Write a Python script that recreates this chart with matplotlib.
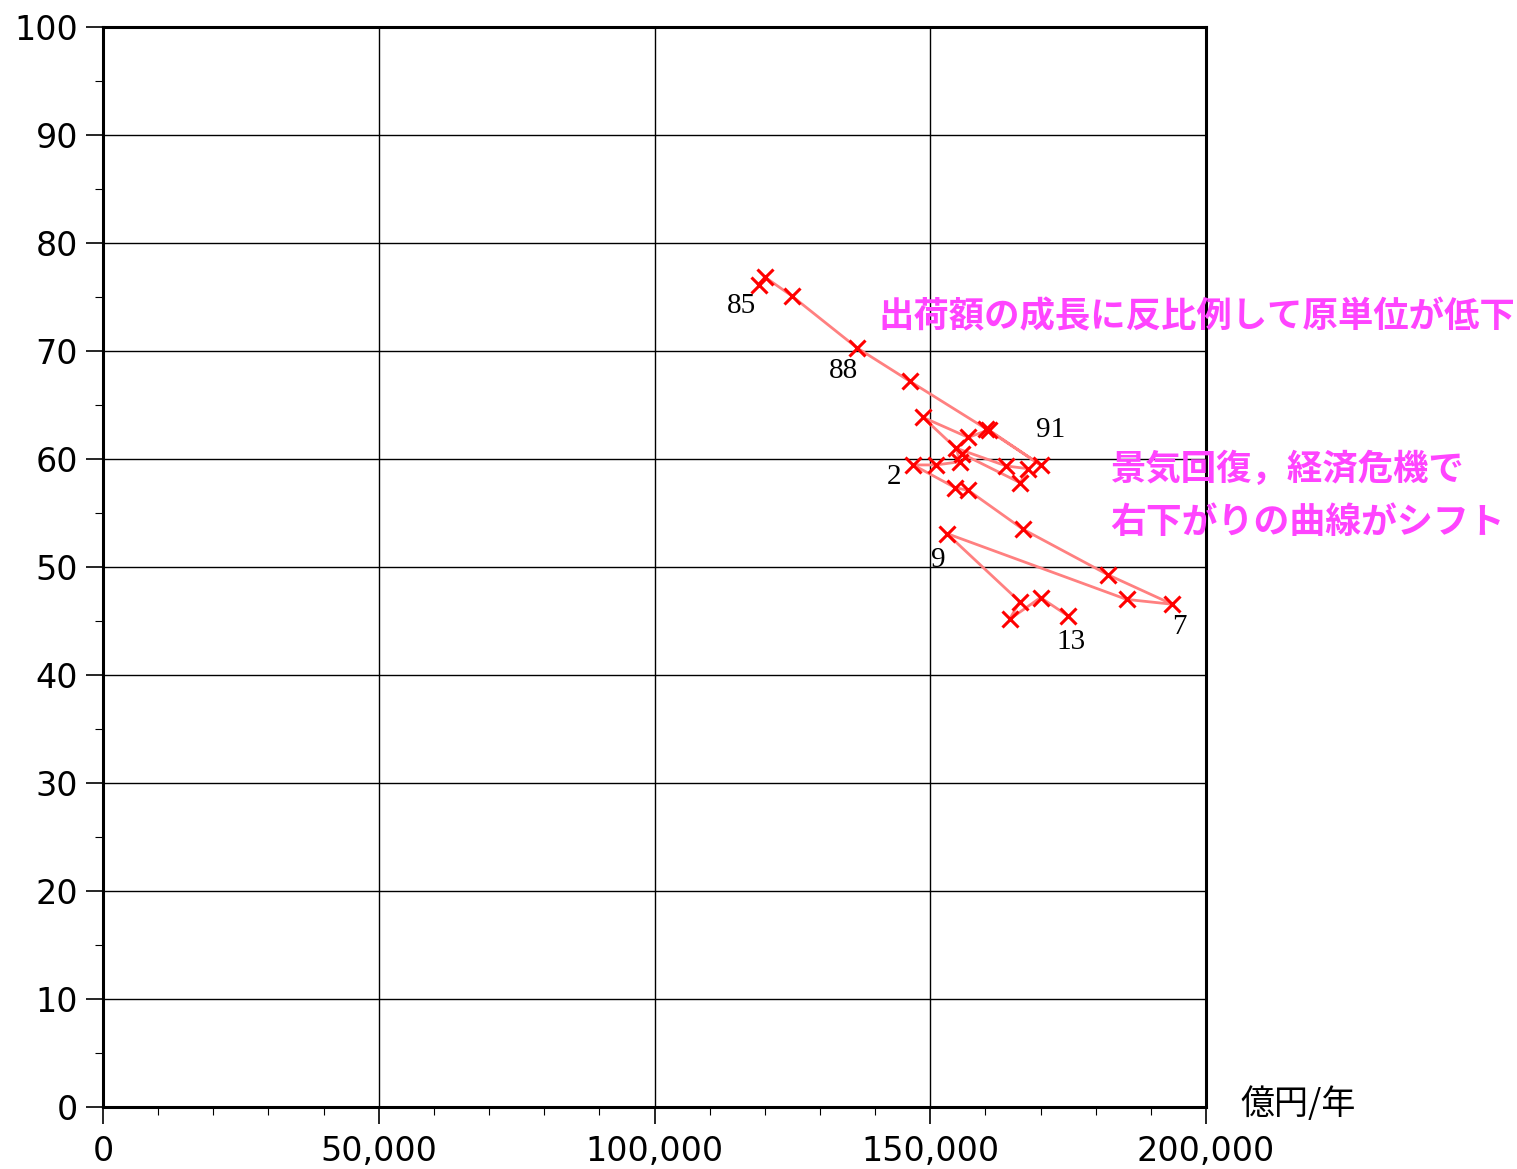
import matplotlib
matplotlib.use("Agg")
import matplotlib.pyplot as plt
from matplotlib.ticker import MultipleLocator, FuncFormatter

# Data: year, shipment value (億円/年), intensity
years = [1985, 1986, 1987, 1988, 1989, 1990, 1991, 1992, 1993, 1994,
         1995, 1996, 1997, 1998, 1999, 2000, 2001, 2002, 2003, 2004,
         2005, 2006, 2007, 2008, 2009, 2010, 2011, 2012, 2013]
shipment = [118900, 120000, 124900, 136700, 146300, 160100, 170000, 160600, 156900, 148700,
            155700, 166300, 167800, 163800, 154700, 155400, 151100, 146900, 154500, 156900,
            166800, 182300, 193900, 185600, 153000, 166200, 164400, 170000, 175000]
intensity = [76.1, 76.85, 75.1, 70.3, 67.2, 62.8, 59.45, 62.7, 62.0, 63.85,
             60.5, 57.8, 59.1, 59.35, 61.0, 59.75, 59.45, 59.45, 57.35, 57.1,
             53.5, 49.26, 46.55, 47.0, 53.1, 46.8, 45.16, 47.17, 45.47]

label_years = [1985, 1988, 1991, 2002, 2007, 2009, 2013]
label_texts = ["85", "88", "91", "2", "7", "9", "13"]
label_offsets = [(-17, -21), (-13, -23), (10, 35), (-19, -12), (7, -23), (-8, -26), (3, -26)]

annot1 = "出荷額の成長に反比例して原単位が低下"
annot2 = "景気回復，経済危機で\n右下がりの曲線がシフト"
unit_label = "億円/年"

x_ticks = [0, 50000, 100000, 150000, 200000]
y_ticks = list(range(0, 101, 10))

fig = plt.figure(figsize=(15.17, 11.69), dpi=100)
ax = fig.add_axes([103/1517, 1-1107/1169, (1206-103)/1517, (1107-27)/1169])

ax.plot(shipment, intensity, color="#ff8080", lw=2, zorder=3)
ax.plot(shipment, intensity, ls="none", marker="x", ms=11, mew=2.2, color="#ff0000", zorder=4)

for yr, txt, (dx, dy) in zip(label_years, label_texts, label_offsets):
    i = years.index(yr)
    ax.annotate(txt, (shipment[i], intensity[i]), xytext=(dx, dy), textcoords="offset pixels",
                ha="center", va="center", fontsize=21, family="Liberation Serif", color="black", zorder=5)

ax.set_xlim(0, 200000)
ax.set_ylim(0, 100)
ax.set_xticks(x_ticks)
ax.set_yticks(y_ticks)
ax.xaxis.set_minor_locator(MultipleLocator(10000))
ax.yaxis.set_minor_locator(MultipleLocator(5))
ax.xaxis.set_major_formatter(FuncFormatter(lambda v, p: f"{int(v):,}"))
ax.tick_params(axis="both", which="major", direction="out", length=12, width=1.2, labelsize=24, pad=6)
ax.tick_params(axis="both", which="minor", direction="out", length=6, width=0.8)
ax.tick_params(axis="x", which="major", pad=8)
ax.grid(True, which="major", color="black", lw=1.0, zorder=1)
for s in ax.spines.values():
    s.set_linewidth(2.2)
    s.set_color("black")

cjk = ["Noto Sans CJK JP", "DejaVu Sans"]
fig.text(878/1517, 1-317/1169, annot1, fontsize=25.5, fontweight="bold", color="#ff44ff",
         family=cjk, ha="left", va="center")
fig.text(1110/1517, 1-469/1169, annot2.split("\n")[0], fontsize=25.5, fontweight="bold", color="#ff44ff",
         family=cjk, ha="left", va="center")
fig.text(1110/1517, 1-522/1169, annot2.split("\n")[1], fontsize=25.8, fontweight="bold", color="#ff44ff",
         family=cjk, ha="left", va="center")
fig.text(1240/1517, 1-1104/1169, unit_label, fontsize=24.5, color="black",
         family=cjk, ha="left", va="center")

fig.savefig("out.png", dpi=100)
